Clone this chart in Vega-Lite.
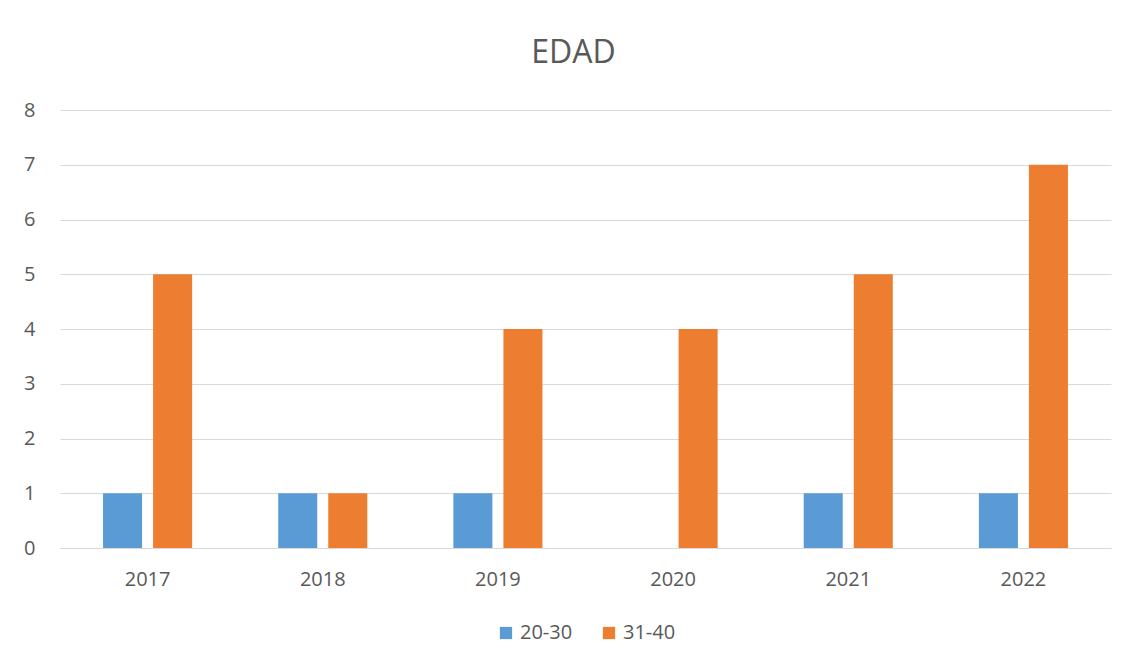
{
  "$schema": "https://vega.github.io/schema/vega-lite/v6.json",
  "width": 1051,
  "height": 438,
  "autosize": {"type": "none"},
  "padding": {"left": 60, "top": 110, "right": 20, "bottom": 119},
  "background": "white",
  "title": {"text": "EDAD", "fontSize": 32, "font": "Open Sans", "fontWeight": "normal", "color": "#595959", "anchor": "middle", "offset": 30, "dx": -12},
  "data": {"values": [
    {"year": "2017", "group": "20-30", "value": 1},
    {"year": "2017", "group": "31-40", "value": 5},
    {"year": "2018", "group": "20-30", "value": 1},
    {"year": "2018", "group": "31-40", "value": 1},
    {"year": "2019", "group": "20-30", "value": 1},
    {"year": "2019", "group": "31-40", "value": 4},
    {"year": "2020", "group": "20-30", "value": 0},
    {"year": "2020", "group": "31-40", "value": 4},
    {"year": "2021", "group": "20-30", "value": 1},
    {"year": "2021", "group": "31-40", "value": 5},
    {"year": "2022", "group": "20-30", "value": 1},
    {"year": "2022", "group": "31-40", "value": 7}
  ]},
  "mark": {"type": "bar"},
  "encoding": {
    "x": {"field": "year", "type": "nominal", "title": null,
      "scale": {"paddingInner": 0, "paddingOuter": 0},
      "axis": {"labelAngle": 0, "ticks": false, "domainColor": "#D9D9D9", "domainWidth": 1, "labelFont": "Open Sans", "labelFontSize": 20, "labelColor": "#595959", "labelPadding": 21, "grid": false}},
    "xOffset": {"field": "group", "type": "nominal", "scale": {"paddingInner": 0.22, "paddingOuter": 0.86}},
    "y": {"field": "value", "type": "quantitative", "title": null,
      "scale": {"domain": [0, 8]},
      "axis": {"values": [0,1,2,3,4,5,6,7,8], "labelOverlap": false, "ticks": false, "domain": false, "gridColor": "#D9D9D9", "gridWidth": 1, "labelFont": "Open Sans", "labelFontSize": 20, "labelColor": "#595959", "labelPadding": 25}},
    "color": {"field": "group", "type": "nominal", "title": null,
      "scale": {"domain": ["20-30", "31-40"], "range": ["#5B9BD5", "#ED7D31"]},
      "legend": {"orient": "bottom", "direction": "horizontal", "symbolType": "square", "symbolSize": 150, "symbolStrokeWidth": 0, "labelFont": "Open Sans", "labelFontSize": 20, "labelColor": "#595959", "columnPadding": 26, "offset": 34}}
  },
  "config": {"view": {"stroke": null}, "legend": {"layout": {"bottom": {"anchor": "middle"}}}}
}
